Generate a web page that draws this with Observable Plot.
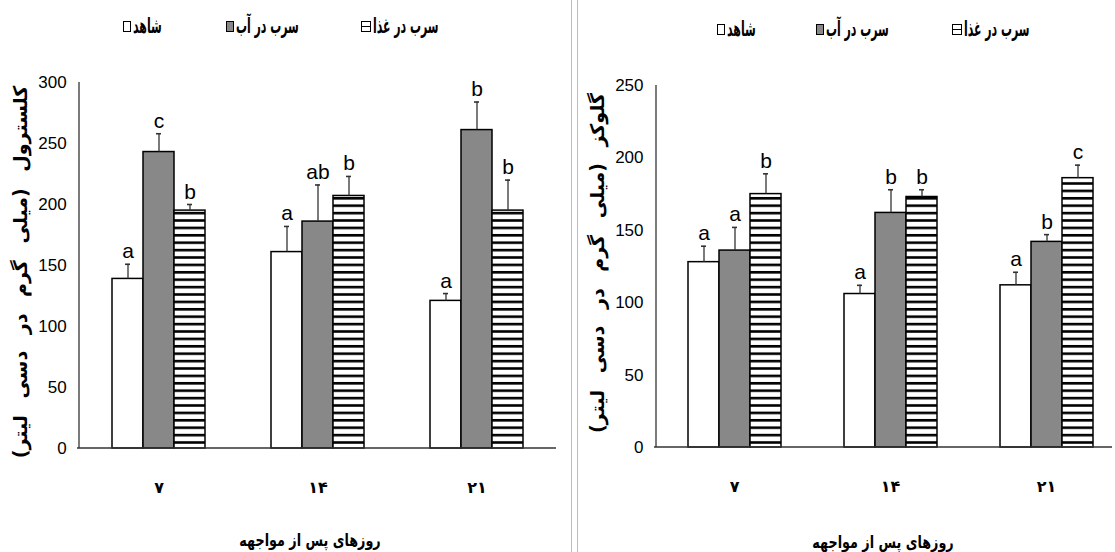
<!DOCTYPE html>
<html><head><meta charset="utf-8">
<script src="https://cdn.jsdelivr.net/npm/d3@7"></script>
<script src="https://cdn.jsdelivr.net/npm/@observablehq/plot@0.6"></script>
<style>
body{margin:0;background:#fff;width:1115px;height:552px;overflow:hidden;position:relative;font-family:"DejaVu Sans","DejaVu Sans Condensed",sans-serif;}
.panel{position:absolute;top:0;}
.leg{position:absolute;display:flex;align-items:center;gap:2px;font-weight:bold;font-size:21px;color:#000;white-space:nowrap;direction:ltr;}
.leg .tx{display:inline-block;transform:scaleX(0.52);transform-origin:left center;direction:rtl;}
.sw{display:inline-block;width:8px;height:11px;border:1px solid #000;box-sizing:border-box;flex:none;}
.sw.c{background:#fff;}
.sw.w{background:#888;}
.sw.f{width:10px;background:linear-gradient(#fff 0 40%,#000 40% 55%,#fff 55% 100%);}
.xt{position:absolute;font-weight:bold;font-size:17px;transform:translateX(-50%) scaleX(0.75);white-space:nowrap;direction:rtl;}
.yt{position:absolute;font-weight:bold;font-size:19px;white-space:nowrap;direction:rtl;transform:translate(-50%,-50%) rotate(-90deg);word-spacing:10px;}
.sep{position:absolute;top:0;width:1px;height:552px;background:#bdbdbd;}
</style></head><body>
<div class="sep" style="left:571px"></div>
<div class="sep" style="left:577px"></div>
<script>
const days = ["۷", "۱۴", "۲۱"];
const treatments = ["شاهد", "سرب در آب", "سرب در غذا"];

// Cholesterol (mg/dL)
const cholControl = [139, 161, 121];
const cholWater   = [243, 186, 261];
const cholFood    = [195, 207, 195];
const cholControlErr = [12, 21, 6];
const cholWaterErr   = [15, 30, 23];
const cholFoodErr    = [5, 16, 25];
const cholControlLet = ["a", "a", "a"];
const cholWaterLet   = ["c", "ab", "b"];
const cholFoodLet    = ["b", "b", "b"];

// Glucose (mg/dL)
const gluControl = [128, 106, 112];
const gluWater   = [136, 162, 142];
const gluFood    = [175, 173, 186];
const gluControlErr = [11, 6, 9];
const gluWaterErr   = [16, 16, 5];
const gluFoodErr    = [14, 5, 9];
const gluControlLet = ["a", "a", "a"];
const gluWaterLet   = ["a", "b", "b"];
const gluFoodLet    = ["b", "b", "c"];

const cholTicks = [0, 50, 100, 150, 200, 250, 300];
const gluTicks = [0, 50, 100, 150, 200, 250];

const xTitle = "روزهای پس از مواجهه";
const cholTitle = "کلسترول (میلی گرم در دسی لیتر)";
const gluTitle = "گلوکز (میلی گرم در دسی لیتر)";

function rows(series, errs, lets) {
  const out = [];
  days.forEach((d, i) => treatments.forEach((t, j) => {
    out.push({day: d, treatment: t, mean: series[j][i], top: series[j][i] + errs[j][i], letter: lets[j][i]});
  }));
  return out;
}

const narrow = "Liberation Sans Narrow, Arial Narrow, Liberation Sans, sans-serif";

function makePanel(o) {
  const data = rows(o.series, o.errs, o.lets);
  // the y axis is drawn in the first facet; offset its labels back to the frame's left edge
  const band = d3.scaleBand().domain(days).range([o.ml, o.width - o.mr])
    .paddingInner(0.4).paddingOuter(o.po).align(o.align);
  const facetOffset = band(days[0]) - o.ml;
  const plot = Plot.plot({
    width: o.width, height: 552,
    marginTop: o.mt, marginBottom: o.mb, marginLeft: o.ml, marginRight: o.mr,
    style: {background: "transparent", overflow: "visible"},
    fx: {domain: days, paddingInner: 0.4, paddingOuter: o.po, align: o.align},
    x: {domain: treatments, padding: 0},
    y: {domain: o.ydomain},
    color: {domain: treatments, range: ["#ffffff", "#888888", "url(#hatch-" + o.id + ")"]},
    marks: [
      Plot.axisY({ticks: o.ticks, tickSize: 0, tickPadding: 0, textAnchor: "end", dx: -facetOffset - 13,
        fontSize: 17, label: null, fontFamily: narrow, fill: "#000"}),
      Plot.axisFx({anchor: "bottom", tickSize: 0, tickPadding: 33, label: null, fontSize: 16, fontWeight: "bold", fontFamily: "DejaVu Sans", fill: "#000"}),
      Plot.axisX({ticks: [], label: null, tickSize: 0}),
      Plot.barY(data, {fx: "day", x: "treatment", y: "mean", fill: "treatment", stroke: "#000", strokeWidth: 1.5}),
      Plot.ruleX(data, {fx: "day", x: "treatment", y1: "mean", y2: "top", stroke: "#333", strokeWidth: 1.3}),
      Plot.tickY(data, {fx: "day", x: "treatment", y: "top", stroke: "#333", strokeWidth: 1.6, insetLeft: 13, insetRight: 13}),
      Plot.text(data, {fx: "day", x: "treatment", y: "top", text: "letter", dy: -6, lineAnchor: "bottom", fontSize: 21, fontFamily: narrow, fill: "#000"})
    ]
  });
  const svg = d3.select(plot);
  const defs = svg.insert("defs", ":first-child");
  const pat = defs.append("pattern").attr("id", "hatch-" + o.id)
    .attr("patternUnits", "userSpaceOnUse").attr("width", 10).attr("height", 7.4);
  pat.append("rect").attr("width", 10).attr("height", 7.4).attr("fill", "#fff");
  pat.append("rect").attr("y", 4.6).attr("width", 10).attr("height", 2.6).attr("fill", "#000");
  const y = plot.scale("y");
  const y0 = y.apply(0), y1 = y.apply(o.ydomain[1]);
  svg.append("line").attr("x1", o.ml).attr("x2", o.ml).attr("y1", y0).attr("y2", y1)
    .attr("stroke", "#333").attr("stroke-width", 1.3);
  svg.append("line").attr("x1", o.ml - 2).attr("x2", o.width - o.mr).attr("y1", y0).attr("y2", y0)
    .attr("stroke", "#333").attr("stroke-width", 1.5);
  const div = document.createElement("div");
  div.className = "panel";
  div.style.left = o.left + "px";
  div.appendChild(plot);
  document.body.appendChild(div);
}

makePanel({id: "c", left: 0, width: 565, mt: 82, mb: 104, ml: 79, mr: 9, po: 0.2, align: 0.5,
  ydomain: [0, 300], ticks: cholTicks,
  series: [cholControl, cholWater, cholFood], errs: [cholControlErr, cholWaterErr, cholFoodErr],
  lets: [cholControlLet, cholWaterLet, cholFoodLet]});
makePanel({id: "g", left: 580, width: 535, mt: 85, mb: 105, ml: 76, mr: 3, po: 0.16, align: 0.62,
  ydomain: [0, 250], ticks: gluTicks,
  series: [gluControl, gluWater, gluFood], errs: [gluControlErr, gluWaterErr, gluFoodErr],
  lets: [gluControlLet, gluWaterLet, gluFoodLet]});

// Legends
function legend(items) {
  items.forEach(([cls, label, left, top]) => {
    const el = document.createElement("div");
    el.className = "leg";
    el.style.left = left + "px";
    el.style.top = top + "px";
    const sw = document.createElement("span");
    sw.className = "sw " + cls;
    const tx = document.createElement("span");
    tx.className = "tx";
    tx.textContent = label;
    el.appendChild(sw); el.appendChild(tx);
    document.body.appendChild(el);
  });
}
legend([["c", treatments[0], 123, 14], ["w", treatments[1], 226, 14], ["f", treatments[2], 361, 14],
        ["c", treatments[0], 717, 17], ["w", treatments[1], 816, 17], ["f", treatments[2], 952, 17]]);

function addText(cls, text, left, top) {
  const el = document.createElement("div");
  el.className = cls;
  el.textContent = text;
  el.style.left = left + "px";
  el.style.top = top + "px";
  document.body.appendChild(el);
}
addText("xt", xTitle, 310, 530);
addText("xt", xTitle, 883, 532);
addText("yt", cholTitle, 20, 272);
addText("yt", gluTitle, 597, 263);
</script>
</body></html>
